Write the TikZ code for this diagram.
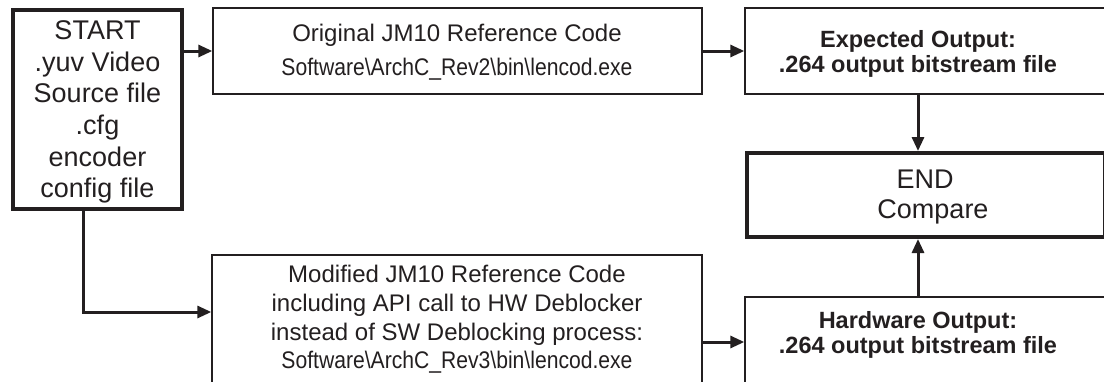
\documentclass[tikz,border=0pt]{standalone}
\usepackage{fontspec}
\setmainfont{Liberation Sans}
\newfontfamily\pathfont[FakeStretch=0.88]{Liberation Sans}
\usetikzlibrary{arrows.meta}
\definecolor{ink}{HTML}{231F20}
\tikzset{
  box/.style={draw=ink, line width=1.4pt, fill=white, inner sep=0pt, rectangle},
  heavybox/.style={box, line width=4pt},
  label/.style={text=ink, align=center, inner sep=0pt},
  flow/.style={draw=ink, line width=3pt, -{Triangle[length=14pt,width=12pt]}},
}
\begin{document}
\begin{tikzpicture}[x=1pt,y=-1pt]
  \clip (0,0) rectangle (1104,381);
  \fill[white] (0,0) rectangle (1104,381);

  % boxes
  \node[heavybox, minimum width=169pt, minimum height=199pt] (start) at (97.5,109.5) {};
  \node[box, minimum width=489pt, minimum height=86pt] (orig) at (457.5,51) {};
  \node[box, minimum width=372pt, minimum height=86pt] (exp) at (931,51) {};
  \node[heavybox, minimum width=358pt, minimum height=84pt] (end) at (926,195) {};
  \node[box, minimum width=372pt, minimum height=104pt] (hw) at (931,349) {};
  \node[box, minimum width=490pt, minimum height=146pt] (mod) at (457,328) {};

  % texts
  \node[label, font=\fontsize{27}{31.6}\selectfont] (starttxt) at (97.5,112)
    {START\\.yuv Video\\Source file\\.cfg\\encoder\\config file};
  \node[label, anchor=base] (origtxt) at (457,41)
    {\fontsize{24}{28}\selectfont Original JM10 Reference Code};
  \node[label, anchor=base] (origpath) at (457,75)
    {\fontsize{24}{28}\pathfont Software\textbackslash ArchC\_Rev2\textbackslash bin\textbackslash lencod.exe};
  \node[label, anchor=base, font=\bfseries\fontsize{23.5}{25}\selectfont] (exptxt1) at (918,47) {Expected Output:};
  \node[label, anchor=base, font=\bfseries\fontsize{23.5}{25}\selectfont] (exptxt2) at (918,72) {.264 output bitstream file};
  \node[label, anchor=base, font=\fontsize{27}{30}\selectfont] (endtxt1) at (925,188) {END};
  \node[label, anchor=base, font=\fontsize{27}{30}\selectfont] (endtxt2) at (933,218) {Compare};
  \node[label, anchor=base, font=\bfseries\fontsize{23.5}{25}\selectfont] (hwtxt1) at (918,328) {Hardware Output:};
  \node[label, anchor=base, font=\bfseries\fontsize{23.5}{25}\selectfont] (hwtxt2) at (918,353) {.264 output bitstream file};
  \node[label, anchor=base, font=\fontsize{24}{28}\selectfont] (modtxt1) at (457,282) {Modified JM10 Reference Code};
  \node[label, anchor=base, font=\fontsize{24}{28}\selectfont] (modtxt2) at (457,311) {including API call to HW Deblocker};
  \node[label, anchor=base, font=\fontsize{24}{28}\selectfont] (modtxt3) at (457,340) {instead of SW Deblocking process:};
  \node[label, anchor=base, font=\fontsize{24}{28}\pathfont] (modtxt4) at (457,368)
    {Software\textbackslash ArchC\_Rev3\textbackslash bin\textbackslash lencod.exe};

  % connector positions
  \coordinate (cmpx) at (918,0);
  \coordinate (split) at (83,312);
  \coordinate (hwrow) at (0,342);

  % connectors
  \draw[flow] (start.east |- orig.west) -- (orig.west);
  \draw[flow] (orig.east) -- (exp.west);
  \draw[flow] (exp.south -| cmpx) -- (end.north -| cmpx);
  \draw[flow] (hw.north -| cmpx) -- (end.south -| cmpx);
  \draw[flow] (start.south -| split) |- (mod.west |- split);
  \draw[flow] (mod.east |- hwrow) -- (hw.west |- hwrow);
\end{tikzpicture}
\end{document}
